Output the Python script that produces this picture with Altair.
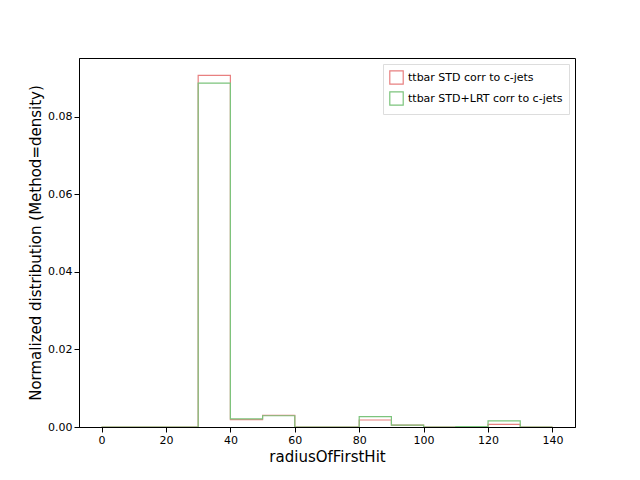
import altair as alt
import pandas as pd

edges = list(range(0, 150, 10))
std = [0, 0, 0, 0.0907, 0.0019, 0.0030, 0, 0, 0.0018, 0.0005, 0, 0, 0.0007, 0]
lrt = [0, 0, 0, 0.0887, 0.0021, 0.0029, 0, 0, 0.0027, 0.0005, 0, 0.0001, 0.0016, 0]
names = ['ttbar STD corr to c-jets', 'ttbar STD+LRT corr to c-jets']

rows = []
for name, vals in zip(names, [std, lrt]):
    for x, v in zip(edges, vals + [0]):
        rows.append({'x': x, 'y': v, 's': name})
data = pd.DataFrame(rows)

chart = alt.Chart(data).mark_line(interpolate='step-after', strokeWidth=1.2, clip=True).encode(
    x=alt.X('x:Q', title='radiusOfFirstHit', scale=alt.Scale(domain=[-7, 147], nice=False),
            axis=alt.Axis(values=list(range(0, 160, 20)), grid=False, titleFontSize=15,
                          titleFontWeight='normal', labelFontSize=11)),
    y=alt.Y('y:Q', title='Normalized distribution (Method=density)',
            scale=alt.Scale(domain=[0, 0.0952], nice=False),
            axis=alt.Axis(values=[0, 0.02, 0.04, 0.06, 0.08], format='.2f', grid=False,
                          titleFontSize=15, titleFontWeight='normal', labelFontSize=11)),
    color=alt.Color('s:N', title=None, scale=alt.Scale(domain=names, range=['#e88080', '#7cc47c']),
                    legend=alt.Legend(orient='top-right', offset=6, symbolType='square', symbolSize=180,
                                      symbolFillColor='white', symbolStrokeWidth=1.2,
                                      labelFontSize=11, padding=6, strokeColor='#dddddd',
                                      fillColor='white', labelLimit=300)),
).properties(width=496, height=369, padding={'left': 20, 'top': 50, 'right': 5, 'bottom': 5})

chart = chart.configure_view(stroke='black').configure_axis(
    domainColor='black', tickColor='black', labelColor='black', titleColor='black',
    labelFont='DejaVu Sans', titleFont='DejaVu Sans').configure_legend(labelFont='DejaVu Sans')

chart.save("out.html", embed_options={"renderer": "svg", "actions": False})
